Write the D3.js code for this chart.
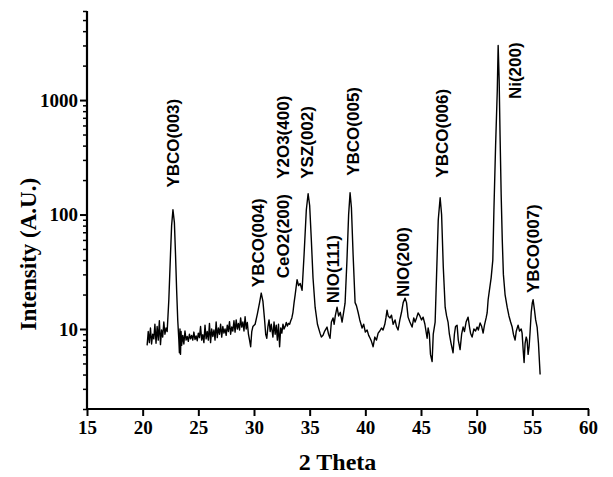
<!DOCTYPE html>
<html>
<head>
<meta charset="utf-8">
<script src="https://cdn.jsdelivr.net/npm/d3@7"></script>
<style>
  body { margin: 0; background: #fff; }
  svg { display: block; }
</style>
</head>
<body>
<div id="chart"></div>
<script>
// XRD pattern (2-theta in degrees, intensity in A.U.)
const twoTheta = [
  20.4, 20.5, 20.6, 20.7, 20.8, 20.9, 21.0, 21.1, 21.2, 21.3, 21.4, 21.5, 21.6, 21.7, 21.8, 21.9, 22.0, 22.1, 22.2,
  22.35, 22.5, 22.6, 22.72, 22.85, 22.95, 23.05, 23.15, 23.25, 23.3, 23.35, 23.4, 23.45, 23.5,
  23.6, 23.7, 23.8, 23.9, 24.0, 24.1, 24.2, 24.3, 24.4, 24.5, 24.6, 24.7, 24.8, 24.9, 25.0, 25.1, 25.2, 25.3, 25.4, 25.5,
  25.6, 25.7, 25.8, 25.9, 26.0, 26.1, 26.2, 26.3, 26.4, 26.5, 26.6, 26.7, 26.8, 26.9, 27.0, 27.1, 27.2, 27.3, 27.4, 27.5,
  27.6, 27.7, 27.8, 27.9, 28.0, 28.1, 28.2, 28.3, 28.4, 28.5, 28.6, 28.7, 28.8, 28.9, 29.0, 29.1, 29.2, 29.3, 29.4, 29.5,
  29.6, 29.7, 29.8, 29.9, 30.1, 30.3, 30.5, 30.65, 30.8, 30.95, 31.05, 31.15, 31.25, 31.35, 31.45, 31.55,
  31.7, 31.8, 31.9, 32.0, 32.1, 32.2, 32.3, 32.4, 32.5, 32.6, 32.7, 32.8, 32.9, 33.0, 33.1, 33.2, 33.3, 33.4, 33.5,
  33.6, 33.7, 33.87, 34.0, 34.15, 34.32, 34.5, 34.7, 34.86, 35.0, 35.15, 35.3, 35.49, 35.7, 35.93, 36.05, 36.2,
  36.35, 36.56, 36.7, 36.83, 36.95, 37.1, 37.2, 37.3, 37.46, 37.6, 37.75, 37.91, 38.05, 38.18, 38.35, 38.5, 38.63,
  38.75, 38.9, 39.08, 39.2, 39.35, 39.5, 39.71, 39.85, 40.0, 40.16, 40.3, 40.43, 40.55, 40.7, 40.85, 41.0, 41.15,
  41.3, 41.45, 41.59, 41.75, 41.85, 41.95, 42.05, 42.22, 42.35, 42.5, 42.67, 42.8, 42.94, 43.1, 43.25, 43.4, 43.57,
  43.7, 43.84, 44.0, 44.2, 44.35, 44.47, 44.6, 44.74, 44.9, 45.05, 45.19, 45.35, 45.55, 45.64, 45.75, 45.85, 46.0,
  46.1, 46.27, 46.4, 46.55, 46.72, 46.85, 47.0, 47.17, 47.3, 47.43, 47.55, 47.7, 47.88, 48.0, 48.1, 48.24, 48.35,
  48.51, 48.65, 48.78, 48.9, 49.05, 49.23, 49.35, 49.45, 49.59, 49.75, 49.9, 50.04, 50.15, 50.31, 50.45, 50.58,
  50.7, 50.85, 50.94, 51.03, 51.15, 51.3, 51.45, 51.55, 51.7, 51.85, 51.93, 52.02, 52.1, 52.2, 52.3, 52.4, 52.55,
  52.74, 52.9, 53.05, 53.19, 53.3, 53.45, 53.55, 53.72, 53.85, 54.0, 54.08, 54.18, 54.26, 54.35, 54.45, 54.53,
  54.62, 54.71, 54.8, 54.9, 55.0, 55.07, 55.18, 55.3, 55.43, 55.55, 55.7
];
const intensity = [
  7.2, 9.5, 7.6, 10.2, 7.4, 9.0, 8.2, 11.0, 7.5, 10.5, 8.0, 11.8, 7.3, 9.8, 8.5, 11.5, 9.0, 10.2, 9.5,
  18, 45, 80, 110, 85, 45, 22, 12, 8, 6.2, 10, 6.0, 9.5, 7.2,
  8.8, 7.4, 9.6, 8.0, 8.6, 7.8, 9.0, 8.2, 8.8, 8.0, 9.4, 8.1, 8.7, 7.9, 9.2, 8.4, 10.5, 8.0, 8.9, 7.6,
  10.8, 8.2, 9.5, 8.0, 11.2, 7.6, 10.0, 8.6, 9.8, 8.0, 11.5, 8.4, 10.2, 9.0, 11.0, 8.5, 10.5, 9.2, 10.0, 8.8,
  10.8, 9.5, 11.6, 9.0, 10.4, 9.6, 11.8, 9.4, 12.0, 10.0, 11.2, 9.8, 12.5, 10.4, 11.5, 9.6, 12.8, 10.0, 11.4, 9.0,
  8.0, 7.0, 9.5, 10.5, 11.0, 13.5, 17, 20.6, 17.5, 12, 9.0, 8.3, 10.5, 12.0, 9.5, 11.0,
  8.5, 11.5, 9.0, 10.8, 8.0, 11.0, 7.0, 10.2, 9.2, 11.0, 10.0, 10.5, 11.4, 10.6, 11.2, 11.0, 11.8, 12.5, 14,
  17, 20, 27, 24, 25, 21.8, 45, 110, 152, 120, 60, 28, 15.5, 11, 9.2, 8.5, 8.8,
  9.6, 10.4, 9.0, 8.3, 11.5, 12.5, 11.0, 13.0, 15.5, 13.0, 14.0, 11.5, 14.0, 16.8, 40, 100, 155,
  115, 45, 17, 16, 14, 12, 10.2, 11.0, 9.4, 9.8, 8.8, 8.3, 7.8, 7.0, 8.5, 8.0, 9.2,
  9.6, 10.2, 9.8, 11.0, 12.5, 14.6, 13.0, 12.5, 13.2, 11.0, 12.0, 10.5, 9.8, 12.0, 14, 17, 18.6,
  17, 12.7, 11.5, 10.4, 12.5, 11.5, 12.5, 13.8, 13.0, 12.0, 12.7, 11.0, 8.3, 10.2, 9.0, 6.0, 5.2,
  9.0, 11.5, 30, 90, 140, 100, 35, 15.5, 13, 11.5, 9.0, 7.5, 6.2, 9.0, 10.5, 10.8, 8.0,
  6.6, 9.0, 10.4, 9.5, 11.5, 12.7, 10.5, 9.2, 8.5, 10.0, 9.6, 10.4, 9.8, 11.3, 10.5, 9.2,
  10.8, 12.5, 13.8, 18, 22, 28, 40, 110, 400, 1200, 3000, 1500, 500, 150, 60, 30, 20,
  15.5, 13, 11.5, 10.4, 9.0, 8.0, 9.5, 10.8, 9.6, 10.0, 9.2, 6.5, 5.1, 7.5, 8.5, 8.0,
  6.0, 7.0, 9.5, 14, 17, 18, 15, 12, 10.4, 7.5, 4.0
];

// peak assignments: label, 2-theta of label, intensity at the label's lower end
const peakLabels = ['YBCO(003)', 'YBCO(004)', 'CeO2(200)', 'Y2O3(400)', 'YSZ(002)', 'NIO(111)', 'YBCO(005)', 'NIO(200)', 'YBCO(006)', 'Ni(200)', 'YBCO(007)'];
const peakLabelTheta = [22.73, 30.36, 32.61, 32.61, 34.77, 37.1, 38.9, 43.4, 46.9, 53.45, 55.07];
const peakLabelBase = [172, 23.2, 27.8, 205, 205, 16.8, 218, 19.0, 210, 1020, 20.6];

const xTicks = [15, 20, 25, 30, 35, 40, 45, 50, 55, 60];
const yTicks = [10, 100, 1000];

const width = 613, height = 477;

const x = d3.scaleLinear().domain([15, 60]).range([87, 588]);
const y = d3.scaleLog().domain([2, 6000]).range([409, 11]);

const svg = d3.select('#chart').append('svg')
    .attr('width', width)
    .attr('height', height);

// minor log ticks 2..9 in every decade
const minorTicks = [];
[1, 10, 100, 1000].forEach(d => {
  for (let k = 2; k <= 9; k++) {
    const v = d * k;
    if (v >= 2 && v <= 6000 && !yTicks.includes(v)) minorTicks.push(v);
  }
});

const tickFont = g => g.selectAll('text')
    .attr('font-family', '"Liberation Serif", "Times New Roman", serif')
    .attr('font-weight', 'bold')
    .attr('font-size', '19px')
    .attr('fill', '#000');

svg.append('g')
    .attr('transform', `translate(${x(15)},0)`)
    .call(d3.axisLeft(y).tickValues(minorTicks).tickSize(4).tickFormat(''))
    .call(g => g.select('.domain').remove())
    .call(g => g.selectAll('line').attr('stroke-width', 1.5));

svg.append('g')
    .attr('transform', `translate(${x(15)},0)`)
    .call(d3.axisLeft(y).tickValues(yTicks).tickSize(7).tickPadding(2).tickFormat(d3.format('d')))
    .call(g => g.select('.domain').remove())
    .call(g => g.selectAll('line').attr('stroke-width', 2))
    .call(tickFont);

svg.append('g')
    .attr('transform', `translate(0,${y(2)})`)
    .call(d3.axisBottom(x).tickValues(xTicks).tickSize(7).tickPadding(5))
    .call(g => g.select('.domain').remove())
    .call(g => g.selectAll('line').attr('stroke-width', 2))
    .call(tickFont);

// axis lines
svg.append('line')
    .attr('x1', x(15)).attr('x2', x(15))
    .attr('y1', y(6000)).attr('y2', y(2) + 1)
    .attr('stroke', '#000').attr('stroke-width', 2.2);
svg.append('line')
    .attr('x1', x(15) - 1).attr('x2', x(60) + 1)
    .attr('y1', y(2)).attr('y2', y(2))
    .attr('stroke', '#000').attr('stroke-width', 2.2);

const points = twoTheta.map((t, i) => [t, intensity[i]]);

svg.append('path')
    .datum(points)
    .attr('fill', 'none')
    .attr('stroke', '#000')
    .attr('stroke-width', 1.4)
    .attr('stroke-linejoin', 'round')
    .attr('d', d3.line().x(d => x(d[0])).y(d => y(d[1])));

svg.append('g')
  .selectAll('text')
  .data(peakLabels)
  .join('text')
    .attr('transform', (d, i) => `translate(${x(peakLabelTheta[i])},${y(peakLabelBase[i])}) rotate(-90)`)
    .attr('dy', '0.36em')
    .attr('font-family', '"Liberation Sans", Arial, sans-serif')
    .attr('font-weight', 'bold')
    .attr('font-size', '17px')
    .text(d => d);

svg.append('text')
    .attr('x', (x(15) + x(60)) / 2)
    .attr('y', 470)
    .attr('text-anchor', 'middle')
    .attr('font-family', '"Liberation Serif", "Times New Roman", serif')
    .attr('font-weight', 'bold')
    .attr('font-size', '24px')
    .text('2 Theta');

svg.append('text')
    .attr('transform', `translate(36,${y(45)}) rotate(-90)`)
    .attr('text-anchor', 'middle')
    .attr('font-family', '"Liberation Serif", "Times New Roman", serif')
    .attr('font-weight', 'bold')
    .attr('font-size', '23px')
    .text('Intensity (A.U.)');
</script>
</body>
</html>
